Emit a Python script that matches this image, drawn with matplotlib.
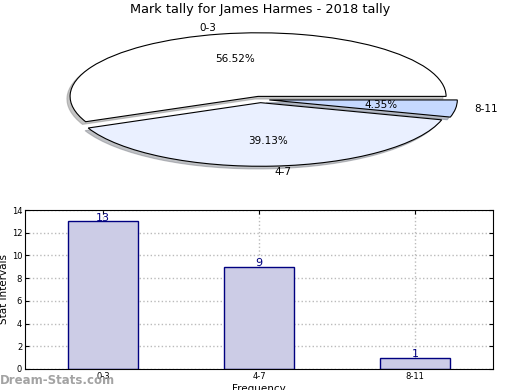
import matplotlib
matplotlib.use("Agg")
import matplotlib.pyplot as plt

title = "Mark tally for James Harmes - 2018 tally"
categories = ["0-3", "4-7", "8-11"]
counts = [13, 9, 1]
pie_colors = ["#ffffff", "#eaf0ff", "#c6d9ff"]
bar_face = "#ccccE6"
bar_edge = "#000080"

fig = plt.figure(figsize=(5.2, 3.9), dpi=100)
W, H = 520, 390

def rect(l, t, r, b):
    return [l / W, 1 - b / H, (r - l) / W, (b - t) / H]

# pie
axp = fig.add_axes(rect(25, 20, 495, 179))
axp.pie(counts, labels=categories, colors=pie_colors, autopct="%.2f%%",
        explode=[0.05] * len(counts),
        shadow=dict(ox=-0.012, oy=-0.03, shade=0.45), startangle=0,
        wedgeprops=dict(edgecolor="black", linewidth=0.8),
        textprops=dict(fontsize=7.5))
axp.set_aspect("auto")
axp.set_xlim(-1.25, 1.25)
axp.set_ylim(-1.25, 1.25)
fig.text(260 / W, 1 - 10 / H, title, ha="center", va="center", fontsize=9.3)

# bars
axb = fig.add_axes(rect(25, 210, 493, 369))
x = list(range(len(categories)))
bars = axb.bar(x, counts, width=0.45, color=bar_face, edgecolor=bar_edge,
               linewidth=1, zorder=2)
for xi, c in zip(x, counts):
    axb.text(xi, c - 0.15, str(c), ha="center", va="bottom", color="#000080",
             fontsize=8, zorder=3)
axb.set_xlim(-0.5, 2.5)
axb.set_ylim(0, 14)
axb.set_yticks(range(0, 15, 2))
axb.set_xticks(x)
axb.set_xticklabels(categories)
axb.tick_params(labelsize=6, direction="in", length=3, right=True, top=True,
                pad=2)
axb.grid(True, linestyle=":", color="#bbbbbb", linewidth=1, zorder=0)
axb.set_axisbelow(True)
axb.set_ylabel("Stat Intervals", fontsize=7.5, labelpad=2)
axb.set_xlabel("Frequency", fontsize=7.5, labelpad=2)

fig.text(0, 1 - 380 / H, "Dream-Stats.com", ha="left", va="center",
         fontsize=8.5, color="#999999", fontweight="bold", alpha=0.9)

fig.savefig("out.png", dpi=100)
